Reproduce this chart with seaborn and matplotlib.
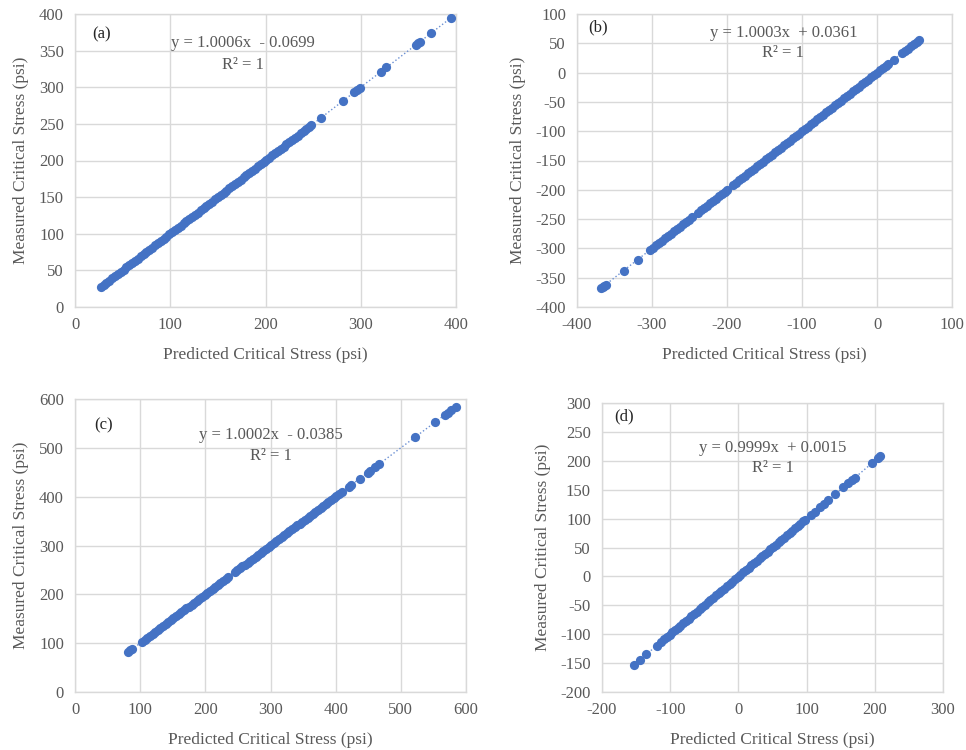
import matplotlib
matplotlib.use('Agg')
import matplotlib.pyplot as plt
import seaborn as sns

# ===============================
# Data
# ===============================
pred_a = [27, 30, 33, 36, 39, 42, 45, 48, 51, 54, 57, 60, 63, 66, 69, 72, 75, 78, 81, 84,
          87, 90, 93, 96, 99, 102, 105, 108, 111, 114, 117, 120, 123, 126, 129, 132, 135,
          138, 141, 144, 147, 150, 153, 156, 159, 162, 165, 168, 171, 174, 177, 180, 183,
          186, 189, 192, 195, 198, 201, 204, 207, 210, 213, 216, 219, 222, 225, 228, 231,
          234, 237, 240, 243, 246, 248, 258, 281, 293, 296, 299, 321, 327, 358, 360, 362,
          374, 395]
meas_a = [27, 30, 33, 36, 39, 42, 45, 48, 51, 54, 57, 60, 63, 66, 69, 72, 75, 78, 81, 84,
          87, 90, 93, 96, 99, 102, 105, 108, 111, 114, 117, 120, 123, 126, 129, 132, 135,
          138, 141, 144, 147, 150, 153, 156, 159, 162, 165, 168, 171, 174, 177, 180, 183,
          186, 189, 192, 195, 198, 201, 204, 207, 210, 213, 216, 219, 222, 225, 228, 231,
          234, 237, 240, 243, 246, 248, 258, 281, 293, 296, 299, 321, 327, 358, 360, 362,
          374, 395]

pred_b = [-368, -366, -364, -362, -338, -319, -303, -299, -295, -291, -287, -283, -279,
          -275, -271, -267, -263, -259, -255, -251, -247, -239, -235, -231, -227, -223,
          -219, -215, -211, -207, -203, -200, -192, -188, -184, -180, -176, -172, -168,
          -164, -160, -156, -152, -148, -144, -140, -136, -132, -128, -124, -120, -116,
          -112, -108, -104, -100, -96, -92, -88, -84, -80, -76, -72, -68, -64, -60, -56,
          -52, -48, -44, -40, -36, -32, -28, -24, -20, -16, -12, -8, -4, 0, 4, 8, 12, 15,
          22, 33, 37, 41, 45, 49, 53, 56]
meas_b = [-368, -366, -364, -362, -338, -319, -303, -299, -295, -291, -287, -283, -279,
          -275, -271, -267, -263, -259, -255, -251, -247, -239, -235, -231, -227, -223,
          -219, -215, -211, -207, -203, -200, -192, -188, -184, -180, -176, -172, -168,
          -164, -160, -156, -152, -148, -144, -140, -136, -132, -128, -124, -120, -116,
          -112, -108, -104, -100, -96, -92, -88, -84, -80, -76, -72, -68, -64, -60, -56,
          -52, -48, -44, -40, -36, -32, -28, -24, -20, -16, -12, -8, -4, 0, 4, 8, 12, 15,
          22, 33, 37, 41, 45, 49, 53, 56]

pred_c = [82, 85, 88, 103, 107, 111, 115, 119, 123, 127, 131, 135, 139, 143, 147, 151, 155,
          159, 163, 167, 171, 175, 179, 183, 187, 191, 195, 199, 203, 207, 211, 215, 219,
          223, 227, 231, 235, 245, 249, 253, 257, 261, 265, 269, 273, 277, 281, 285, 289,
          293, 297, 301, 305, 309, 313, 317, 321, 325, 329, 333, 337, 341, 345, 349, 353,
          357, 361, 365, 369, 373, 377, 381, 385, 389, 393, 397, 401, 405, 410, 420, 424,
          437, 449, 453, 460, 466, 522, 553, 568, 572, 577, 584]
meas_c = [82, 85, 88, 103, 107, 111, 115, 119, 123, 127, 131, 135, 139, 143, 147, 151, 155,
          159, 163, 167, 171, 175, 179, 183, 187, 191, 195, 199, 203, 207, 211, 215, 219,
          223, 227, 231, 235, 245, 249, 253, 257, 261, 265, 269, 273, 277, 281, 285, 289,
          293, 297, 301, 305, 309, 313, 317, 321, 325, 329, 333, 337, 341, 345, 349, 353,
          357, 361, 365, 369, 373, 377, 381, 385, 389, 393, 397, 401, 405, 410, 420, 424,
          437, 449, 453, 460, 466, 522, 553, 568, 572, 577, 584]

pred_d = [-153, -145, -135, -120, -113, -109, -105, -101, -97, -93, -89, -85, -81, -77, -73,
          -69, -65, -61, -57, -53, -49, -45, -41, -37, -33, -29, -25, -21, -17, -13, -9, -5,
          -1, 3, 7, 11, 15, 19, 23, 27, 31, 35, 39, 43, 47, 51, 55, 59, 63, 67, 71, 75, 79,
          83, 87, 91, 95, 98, 107, 112, 120, 125, 132, 142, 154, 161, 166, 171, 196, 205, 208]
meas_d = [-153, -145, -135, -120, -113, -109, -105, -101, -97, -93, -89, -85, -81, -77, -73,
          -69, -65, -61, -57, -53, -49, -45, -41, -37, -33, -29, -25, -21, -17, -13, -9, -5,
          -1, 3, 7, 11, 15, 19, 23, 27, 31, 35, 39, 43, 47, 51, 55, 59, 63, 67, 71, 75, 79,
          83, 87, 91, 95, 98, 107, 112, 120, 125, 132, 142, 154, 161, 166, 171, 196, 205, 208]

panel_labels = ['(a)', '(b)', '(c)', '(d)']
equations = ['y = 1.0006x  - 0.0699', 'y = 1.0003x  + 0.0361',
             'y = 1.0002x  - 0.0385', 'y = 0.9999x  + 0.0015']
x_ranges = [(0, 400, 100), (-400, 100, 100), (0, 600, 100), (-200, 300, 100)]
y_ranges = [(0, 400, 50), (-400, 100, 50), (0, 600, 100), (-200, 300, 50)]

# ===============================
# Style
# ===============================
sns.set_style('white')
plt.rcParams['font.family'] = ['Liberation Serif', 'DejaVu Serif']
plt.rcParams['axes.unicode_minus'] = False
text_col = '#595959'
grid_col = '#D9D9D9'
blue = '#4472C4'

fig = plt.figure(figsize=(9.66, 7.5), dpi=100)
W, H = 966, 750
# posisi plot area (px): left, top, right, bottom
boxes = [(75, 14, 456, 307), (577, 14, 952, 307),
         (75, 399, 466, 692), (602, 403, 943, 692)]
# posisi teks (fraksi sumbu)
panel_pos = [(0.045, 0.93), (0.03, 0.955), (0.05, 0.91), (0.035, 0.955)]
eq_pos = [(0.44, 0.90, 0.826), (0.55, 0.935, 0.867),
          (0.50, 0.877, 0.805), (0.50, 0.844, 0.775)]

xs = [pred_a, pred_b, pred_c, pred_d]
ys = [meas_a, meas_b, meas_c, meas_d]

for i in range(4):
    l, t, r, b = boxes[i]
    ax = fig.add_axes([l / W, 1 - b / H, (r - l) / W, (b - t) / H])
    sns.regplot(x=xs[i], y=ys[i], ax=ax, ci=None, color=blue,
                scatter_kws={'s': 44, 'alpha': 1, 'linewidths': 0, 'zorder': 3},
                line_kws={'ls': ':', 'lw': 1.0, 'color': '#6A8FD3', 'zorder': 2})
    x0, x1, dx = x_ranges[i]
    y0, y1, dy = y_ranges[i]
    ax.set_xlim(x0, x1)
    ax.set_ylim(y0, y1)
    ax.set_xticks(range(x0, x1 + 1, dx))
    ax.set_yticks(range(y0, y1 + 1, dy))
    ax.grid(True, color=grid_col, lw=1)
    ax.set_axisbelow(True)
    for s in ax.spines.values():
        s.set_color(grid_col)
        s.set_linewidth(1)
    ax.tick_params(length=0, labelsize=12, colors=text_col, pad=7)
    ax.tick_params(axis='y', pad=8)
    ax.set_xlabel('Predicted Critical Stress (psi)', fontsize=12.5, color=text_col, labelpad=10)
    ax.set_ylabel('Measured Critical Stress (psi)', fontsize=12.5, color=text_col, labelpad=7)
    ax.text(panel_pos[i][0], panel_pos[i][1], panel_labels[i], transform=ax.transAxes,
            fontsize=12, color='#262626', ha='left', va='center')
    ex, ey1, ey2 = eq_pos[i]
    ax.text(ex, ey1, equations[i], transform=ax.transAxes, fontsize=12,
            color=text_col, ha='center', va='center')
    ax.text(ex, ey2, 'R² = 1', transform=ax.transAxes, fontsize=12,
            color=text_col, ha='center', va='center')

fig.savefig('out.png', dpi=100)
